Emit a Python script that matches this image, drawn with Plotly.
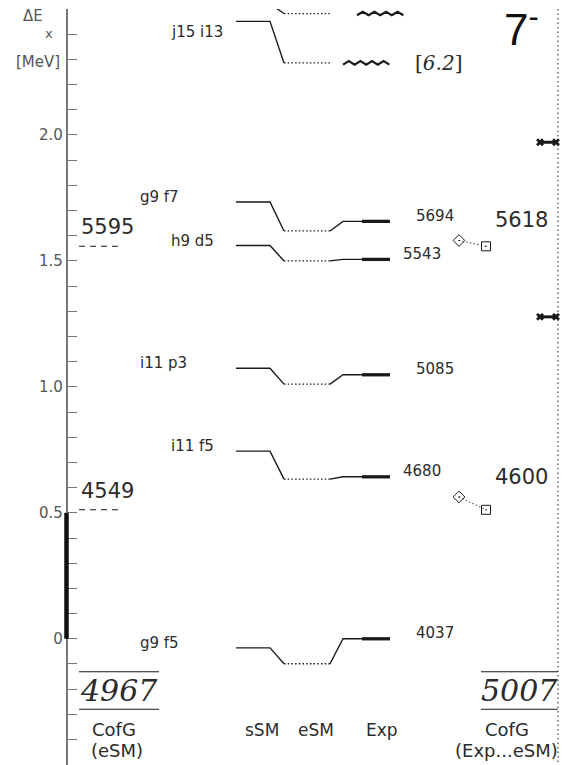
import numpy as np
import plotly.graph_objects as go

# ---- level scheme data (energies in MeV relative to the 4037 keV state) ----
configs = ["g9 f5", "i11 f5", "i11 p3", "h9 d5", "g9 f7", "j15 i13", ""]
e_ssm = [-0.036, 0.745, 1.074, 1.561, 1.734, 2.451, 2.520]
e_esm = [-0.099, 0.634, 1.011, 1.500, 1.619, 2.286, 2.482]
exp_kev = [4037, 4680, 5085, 5543, 5694, None, None]
exp_ref_kev = 4037
tentative_label = "[<i>6.2</i>]"

# centres of gravity
cofg_esm_kev = [4549, 5595]
cofg_exp_kev = [4600, 5618]
cofg_total_esm = "4967"
cofg_total_exp = "5007"
side_marks = [1.278, 1.971]
bar_span = [0.0, 0.5]
spin_label = "7<sup>-</sup>"

tick_vals = [round(v, 1) for v in np.arange(-0.5, 2.51, 0.1)]
tick_named = {0.0: "0", 0.5: "0.5", 1.0: "1.0", 1.5: "1.5", 2.0: "2.0"}
tick_text = [tick_named.get(v, " ") for v in tick_vals]

# ---- geometry ----
W, H, TOP = 567, 765, 9
Y_MIN, Y_MAX = -0.501, 2.5


def e_at(px):
    """energy at a given pixel row of the page"""
    return Y_MAX - (px - TOP) * (Y_MAX - Y_MIN) / (H - TOP)


def kev(v):
    return (v - exp_ref_kev) / 1000.0


AXIS_X = 66.5
X_SSM = (236, 270)
X_ESM = (284, 330)
X_EXP_THIN = 343
X_EXP = (362, 390)
INK = "#1a1a1a"
TXT = "#2b2b2b"
GREY = "#555555"
SANS = "DejaVu Sans"
SERIF = "DejaVu Serif"

fig = go.Figure()


def seg(xs, ys, width=1.4, dash="solid", color=INK):
    fig.add_trace(go.Scatter(x=xs, y=ys, mode="lines", hoverinfo="skip",
                             line=dict(color=color, width=width, dash=dash)))


annotations = []


def text(x, y, s, size, anchor="left", color=TXT, family=SANS):
    annotations.append(dict(x=x, y=y, xref="x", yref="y", text=s, showarrow=False,
                            xanchor=anchor, yanchor="middle",
                            font=dict(family=family, size=size, color=color)))


# thick bar on the energy axis
seg([AXIS_X, AXIS_X], bar_span, width=4.5, color="#111111")

# levels
for i, (name, s, e, x) in enumerate(zip(configs, e_ssm, e_esm, exp_kev)):
    seg([X_SSM[0], X_SSM[1], X_ESM[0]], [s, s, e])
    seg([X_ESM[0], X_ESM[1]], [e, e], width=1.3, dash="1.5px,2.2px")
    if x is not None:
        ex = kev(x)
        seg([X_ESM[1], X_EXP_THIN, X_EXP[0]], [e, ex, ex])
        seg([X_EXP[0], X_EXP[1]], [ex, ex], width=3.3)
        text(414 if i % 2 == 0 else 401, ex + 0.022, str(x), 15)
    else:
        x0 = 357 if i % 2 == 0 else 343
        zx = x0 + np.arange(9) * 5.8
        zy = e + np.where(np.arange(9) % 2 == 0, -0.007, 0.007)
        seg(zx, zy, width=2.2)
    if name:
        text(138 if i % 2 == 0 else 169, min(s + 0.02, 2.41), name, 15)

text(413, e_esm[5], tentative_label, 20, family=SERIF)

# centre of gravity, eSM (left)
for v in cofg_esm_kev:
    seg([79, 118], [kev(v), kev(v)], width=1.1, dash="6px,5px")
    text(79, kev(v) + 0.075, str(v), 21)

# centre of gravity, Exp vs eSM (right)
for ve, vs in zip(cofg_exp_kev, cofg_esm_kev):
    seg([459, 486], [kev(ve), kev(vs)], width=1.1, dash="1.5px,2.2px", color=GREY)
    fig.add_trace(go.Scatter(x=[459], y=[kev(ve)], mode="markers", hoverinfo="skip",
                             marker=dict(symbol="diamond-open-dot", size=9,
                                         color=INK, line=dict(width=1))))
    fig.add_trace(go.Scatter(x=[486], y=[kev(vs)], mode="markers", hoverinfo="skip",
                             marker=dict(symbol="square-open-dot", size=9,
                                         color=INK, line=dict(width=1))))
    text(493, kev(ve) + 0.08, str(ve), 21)

# markers at the right border
for v in side_marks:
    fig.add_trace(go.Scatter(x=[540, 556], y=[v, v], mode="lines+markers", hoverinfo="skip",
                             line=dict(color=INK, width=3),
                             marker=dict(symbol="x", size=7, color=INK)))

# right border (dotted)
seg([558, 558], [Y_MAX, Y_MIN], width=1.1, dash="1.5px,3px", color="#333333")

# totals at the bottom
for x0, x1, label in [(79, 159, cofg_total_esm), (481, 558, cofg_total_exp)]:
    for py in (671.7, 709.3):
        seg([x0, x1], [e_at(py), e_at(py)], width=1.1)
    text((x0 + x1) / 2, e_at(690), "<i>" + label + "</i>", 30, anchor="center", family=SERIF)

# column captions
text(90, e_at(729), "CofG", 18)
text(89, e_at(750), "(eSM)", 18)
text(243, e_at(730), "sSM", 17)
text(296, e_at(730), "eSM", 17)
text(364, e_at(730), "Exp", 17)
text(483, e_at(729), "CofG", 18)
text(560, e_at(750), "(Exp...eSM)", 18, anchor="right")

# axis title
text(33, e_at(16), "ΔE", 15, anchor="center", color=GREY)
text(48.5, e_at(33), "x", 13, anchor="center", color=GREY)
text(37.5, e_at(62), "[MeV]", 15, anchor="center", color=GREY)

# spin / parity
text(521, e_at(26), spin_label, 44, anchor="center", family="Liberation Sans", color="#111111")

fig.update_layout(
    width=W, height=H,
    margin=dict(l=0, r=0, t=TOP, b=0, autoexpand=False),
    paper_bgcolor="white", plot_bgcolor="white",
    showlegend=False,
    annotations=annotations,
    xaxis=dict(range=[0, W], visible=False, fixedrange=True),
    yaxis=dict(range=[Y_MIN, Y_MAX], anchor="free", position=AXIS_X / W,
               showgrid=False, zeroline=False, layer="below traces",
               showline=True, linecolor="#777777", linewidth=1.5,
               ticks="inside", ticklen=10, tickcolor="#777777", tickwidth=1.2,
               tickvals=tick_vals, ticktext=tick_text,
               tickfont=dict(family=SANS, size=15, color=GREY),
               automargin=False, fixedrange=True),
)

fig.write_html("out.html")
